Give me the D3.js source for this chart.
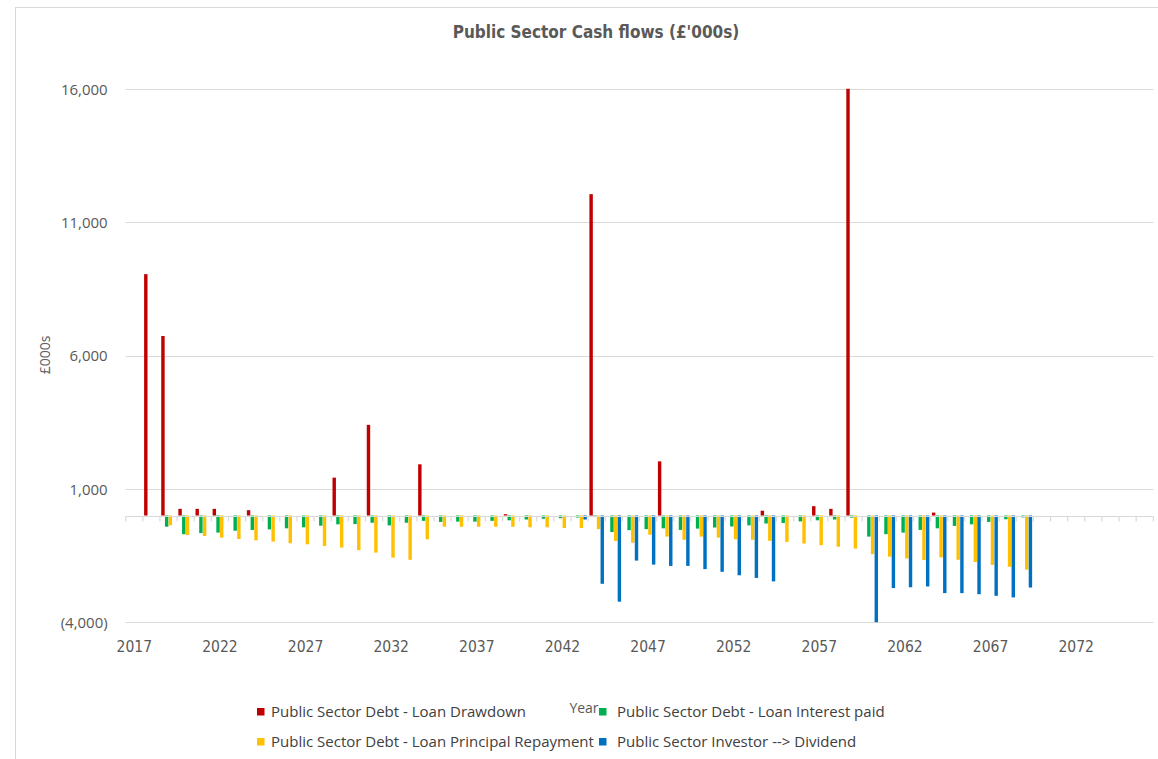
<!DOCTYPE html>
<html>
<head>
<meta charset="utf-8">
<script src="https://cdn.jsdelivr.net/npm/d3@7"></script>
<style>
  html, body { margin: 0; padding: 0; background: #ffffff; }
  svg { display: block; }
  .tick-y { font-family: "Open Sans", "DejaVu Sans", sans-serif; font-size: 15px; fill: #595959; }
  .tick-x { font-family: "Liberation Sans Narrow", "DejaVu Sans Condensed", "DejaVu Sans", sans-serif; font-size: 15.5px; fill: #595959; }
  .title { font-family: "Liberation Sans Narrow", "DejaVu Sans Condensed", sans-serif; font-weight: bold; font-size: 17px; fill: #595959; }
  .axis-title { font-family: "Open Sans", "DejaVu Sans", sans-serif; font-size: 14px; fill: #595959; }
  .legend { font-family: "Open Sans", "DejaVu Sans", sans-serif; font-size: 15px; fill: #404040; }
</style>
</head>
<body>
<svg id="chart" width="1158" height="759"></svg>
<script>
// Years on the category axis
const years = [
  2017, 2018, 2019, 2020, 2021, 2022, 2023, 2024, 2025, 2026,
  2027, 2028, 2029, 2030, 2031, 2032, 2033, 2034, 2035, 2036,
  2037, 2038, 2039, 2040, 2041, 2042, 2043, 2044, 2045, 2046,
  2047, 2048, 2049, 2050, 2051, 2052, 2053, 2054, 2055, 2056,
  2057, 2058, 2059, 2060, 2061, 2062, 2063, 2064, 2065, 2066,
  2067, 2068, 2069, 2070, 2071, 2072, 2073, 2074, 2075, 2076
];

// Cash flows per year, £'000s
const loanDrawdown = [
  0, 9050, 6730, 250, 250, 250, 0, 200, 0, 0,
  0, 0, 1420, 0, 3400, 0, 0, 1920, 0, 0,
  0, 0, 50, 0, 0, 0, 0, 12050, 0, 0,
  0, 2030, 0, 0, 0, 0, 0, 180, 0, 0,
  350, 250, 16000, 0, 0, 0, 0, 110, 0, 0,
  0, 0, 0, 0, 0, 0, 0, 0, 0, 0
];
const loanInterest = [
  0, 0, -420, -700, -660, -640, -570, -540, -520, -480,
  -440, -380, -330, -320, -270, -370, -270, -200, -240, -230,
  -230, -200, -180, -150, -120, -100, -75, -50, -620, -550,
  -510, -480, -540, -490, -450, -410, -370, -300, -280, -220,
  -180, -150, -80, -790, -700, -640, -540, -480, -390, -330,
  -240, -140, -70, 0, 0, 0, 0, 0, 0, 0
];
const loanPrincipal = [
  0, 0, -370, -730, -770, -830, -880, -930, -980, -1040,
  -1080, -1140, -1200, -1300, -1390, -1580, -1660, -890, -420, -420,
  -420, -420, -420, -440, -440, -470, -470, -510, -950, -1020,
  -720, -790, -910, -790, -830, -890, -910, -950, -990, -1050,
  -1110, -1170, -1240, -1450, -1540, -1610, -1670, -1570, -1660, -1740,
  -1850, -1920, -2030, 0, 0, 0, 0, 0, 0, 0
];
const investorDividend = [
  0, 0, 0, 0, 0, 0, 0, 0, 0, 0,
  0, 0, 0, 0, 0, 0, 0, 0, 0, 0,
  0, 0, 0, 0, 0, 0, -150, -2560, -3230, -1690,
  -1840, -1890, -1890, -2010, -2110, -2240, -2340, -2470, 0, 0,
  0, 0, 0, -4000, -2720, -2690, -2660, -2910, -2910, -2950,
  -3010, -3070, -2700, 0, 0, 0, 0, 0, 0, 0
];

const seriesNames = [
  "Public Sector Debt - Loan Drawdown",
  "Public Sector Debt - Loan Interest paid",
  "Public Sector Debt - Loan Principal Repayment",
  "Public Sector Investor --> Dividend"
];
const seriesColors = ["#C00000", "#00B050", "#FFC000", "#0070C0"];
const seriesValues = [loanDrawdown, loanInterest, loanPrincipal, investorDividend];

const xTickLabels = [2017, 2022, 2027, 2032, 2037, 2042, 2047, 2052, 2057, 2062, 2067, 2072];
const yTicks = [-4000, 1000, 6000, 11000, 16000];

const chartTitle = "Public Sector Cash flows (£'000s)";
const yTitle = "£000s";
const xTitle = "Year";

// ---- layout ----
const plot = { left: 125.7, right: 1153.3, top: 88.8, bottom: 622.2 };

const svg = d3.select("#chart");

// chart area frame
svg.append("rect")
  .attr("x", 15.5).attr("y", 7.5)
  .attr("width", 1300).attr("height", 900)
  .attr("fill", "none").attr("stroke", "#d9d9d9").attr("stroke-width", 1);

const x = d3.scaleBand()
  .domain(years)
  .range([plot.left, plot.right])
  .paddingInner(0.15)
  .paddingOuter(0.075);

const x1 = d3.scaleBand()
  .domain(d3.range(seriesNames.length))
  .range([0, x.bandwidth()])
  .paddingInner(0.08);

const y = d3.scaleLinear()
  .domain([-4000, 16000])
  .range([plot.bottom, plot.top]);

// horizontal gridlines
svg.append("g")
  .selectAll("line")
  .data(yTicks)
  .join("line")
  .attr("x1", plot.left).attr("x2", plot.right)
  .attr("y1", d => Math.round(y(d)) + 0.5)
  .attr("y2", d => Math.round(y(d)) + 0.5)
  .attr("stroke", "#d9d9d9").attr("stroke-width", 1.2);

// y axis labels
const fmt = d3.format(",");
const yAxis = d3.axisLeft(y)
  .tickValues(yTicks)
  .tickSize(0)
  .tickPadding(0)
  .tickFormat(d => d < 0 ? "(" + fmt(-d) + ")" : fmt(d));
const gy = svg.append("g")
  .attr("transform", `translate(${plot.left - 18},0)`)
  .call(yAxis);
gy.select(".domain").remove();
gy.selectAll("text").attr("class", "tick-y").attr("dy", "0.35em").attr("fill", null);

// bars
const rows = years.map((yr, i) => ({ year: yr, values: seriesValues.map(s => s[i]) }));
const groups = svg.append("g")
  .selectAll("g")
  .data(rows)
  .join("g")
  .attr("transform", d => `translate(${x(d.year)},0)`);

groups.selectAll("rect")
  .data(d => d.values.map((v, k) => ({ k, v })).filter(e => e.v !== 0))
  .join("rect")
  .attr("x", e => x1(e.k))
  .attr("width", x1.bandwidth())
  .attr("y", e => y(Math.max(0, e.v)))
  .attr("height", e => Math.abs(y(e.v) - y(0)))
  .attr("fill", e => seriesColors[e.k]);

// zero axis line with category tick marks
const y0 = Math.round(y(0)) + 0.5;
svg.append("line")
  .attr("x1", plot.left).attr("x2", plot.right)
  .attr("y1", y0).attr("y2", y0)
  .attr("stroke", "#d9d9d9").attr("stroke-width", 1.2);

const boundaries = years.map(yr => x(yr) - x.step() * x.paddingInner() / 2)
  .concat([plot.right]);
svg.append("g")
  .selectAll("line")
  .data(boundaries)
  .join("line")
  .attr("x1", d => d).attr("x2", d => d)
  .attr("y1", y0).attr("y2", y0 + 5)
  .attr("stroke", "#d9d9d9").attr("stroke-width", 1.2);

// x axis labels (every fifth year) below the plot
const xAxis = d3.axisBottom(x)
  .tickValues(xTickLabels)
  .tickSize(0)
  .tickPadding(0);
const gx = svg.append("g")
  .attr("transform", `translate(0,${plot.bottom + 24})`)
  .call(xAxis);
gx.select(".domain").remove();
gx.selectAll("text").attr("class", "tick-x").attr("dy", "0.35em").attr("y", 0).attr("fill", null);

// titles
svg.append("text")
  .attr("class", "title")
  .attr("x", 596).attr("y", 32)
  .attr("text-anchor", "middle").attr("dy", "0.35em")
  .text(chartTitle);

svg.append("text")
  .attr("class", "axis-title")
  .attr("transform", "translate(45,355) rotate(-90)")
  .attr("text-anchor", "middle").attr("dy", "0.35em")
  .text(yTitle);

svg.append("text")
  .attr("class", "axis-title")
  .attr("x", 584).attr("y", 708)
  .attr("text-anchor", "middle").attr("dy", "0.35em")
  .text(xTitle);

// legend, two columns by two rows
const legendPos = [
  { x: 257, y: 712 },
  { x: 599, y: 712 },
  { x: 257, y: 742 },
  { x: 599, y: 742 }
];
const leg = svg.append("g")
  .selectAll("g")
  .data(seriesNames)
  .join("g")
  .attr("transform", (d, i) => `translate(${legendPos[i].x},${legendPos[i].y})`);
leg.append("rect")
  .attr("x", 0).attr("y", -4)
  .attr("width", 7.5).attr("height", 7.5)
  .attr("fill", (d, i) => seriesColors[i]);
leg.append("text")
  .attr("class", "legend")
  .attr("x", (d, i) => i % 2 === 0 ? 14 : 18)
  .attr("y", 0).attr("dy", "0.35em")
  .text(d => d);
</script>
</body>
</html>
